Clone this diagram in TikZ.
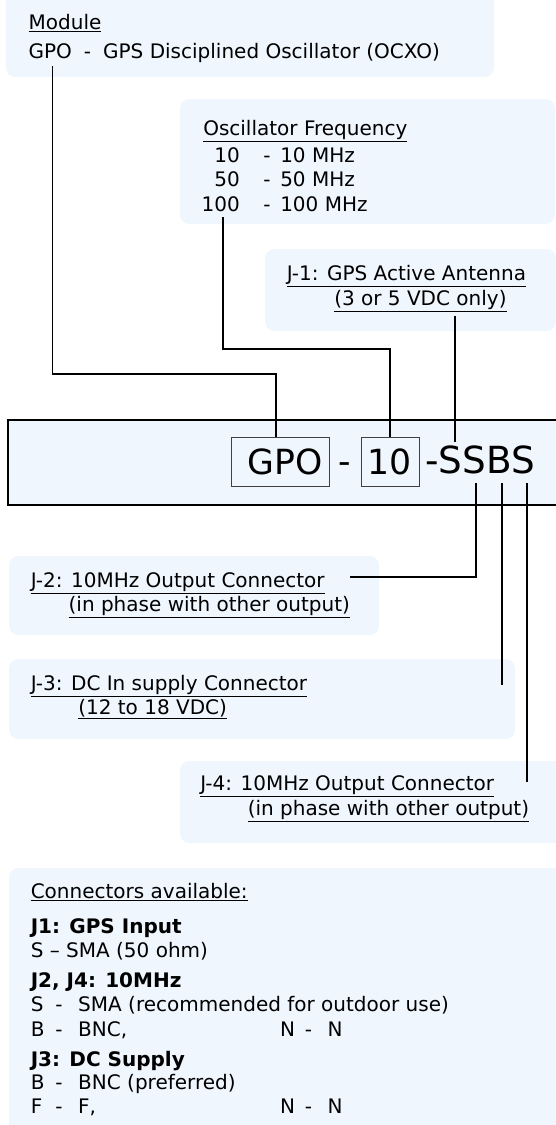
\documentclass[tikz,border=0pt]{standalone}
\usepackage{fontspec}
\setmainfont{DejaVu Sans}
\usetikzlibrary{positioning}
\definecolor{panelblue}{RGB}{240,246,254}
\newcommand{\connopt}[2]{\makebox[18.4pt][l]{#1}\makebox[17.2pt][l]{-}#2}
\tikzset{
panel/.style={fill=panelblue, rounded corners=7pt}, % light blue note panels
txt/.style={anchor=base west, inner sep=0pt, font=\fontsize{15}{18}\selectfont},
boldtxt/.style={txt, font=\fontsize{15}{18}\selectfont\bfseries},
code/.style={inner sep=0pt, font=\fontsize{26}{30}\selectfont}, % the part number
codebox/.style={code, draw=black!75, line width=0.6pt, fill=panelblue, minimum height=36.75pt},
wire/.style={line width=1pt},
}

\begin{document}
\begin{tikzpicture}[x=0.75pt, y=-0.75pt]
            \useasboundingbox (0,0) rectangle (556,1125);
            % panels
            \fill[panel] (6,-12) rectangle (494,77);
            \fill[panel] (180,99) rectangle (555,224);
            \fill[panel] (265,249) rectangle (556,331);
            \fill[panel] (9,556) rectangle (379,635);
            \fill[panel] (9,659) rectangle (515,739);
            \fill[panel] (180,761) rectangle (575,843);
            \fill[panel] (9,868) rectangle (575,1140);
            % module
            \node[txt] (modtitle) at (28.4,29.5) {\underline{Module}};
            \node[txt] (modline) at (28.4,58) {GPO\hspace{9pt}-\hspace{9pt}GPS Disciplined Oscillator (OCXO)};
            % oscillator frequency
            \node[txt] (osctitle) at (203,135) {\underline{Oscillator Frequency}};
            \node[txt, anchor=base east] (osc10) at (240,162) {10};
            \node[txt, anchor=base east] (osc50) at (240,186) {50};
            \node[txt, anchor=base east] (osc100) at (240,211) {100};
            \node[txt] (dash10) at (263,162) {-};
            \node[txt] (dash50) at (263,186) {-};
            \node[txt] (dash100) at (263,211) {-};
            \node[txt] (val10) at (280,162) {10 MHz};
            \node[txt] (val50) at (280,186) {50 MHz};
            \node[txt] (val100) at (280,211) {100 MHz};
            % J-1
            \node[txt] (j1title) at (286.5,280) {\underline{J-1: GPS Active Antenna}};
            \node[txt] (j1note) at (334,305) {\underline{(3 or 5 VDC only)}};
            % part number
            \draw[line width=1.1pt, fill=panelblue] (8,420) rectangle (575,505);
            \node[codebox, minimum width=73.5pt] (cgpo) at (280,461.5) {\hspace{8pt}GPO};
            \node[code, anchor=base] (cdash) at (344.5,473) {-};
            \node[codebox, minimum width=43.5pt] (c10) at (390,461.5) {10};
            \node[code, anchor=base west, font=\fontsize{28}{32}\selectfont] (cssbs) at (425,473) {-SSBS};
            % J-2 .. J-4
            \node[txt] (j2title) at (30.5,587) {\underline{J-2: 10MHz Output Connector}};
            \node[txt] (j2note) at (68.4,611) {\underline{(in phase with other output)}};
            \node[txt] (j3title) at (30.5,690) {\underline{J-3: DC In supply Connector}};
            \node[txt] (j3note) at (78,714) {\underline{(12 to 18 VDC)}};
            \node[txt] (j4title) at (200,790) {\underline{J-4: 10MHz Output Connector}};
            \node[txt] (j4note) at (247.5,815) {\underline{(in phase with other output)}};
            % connectors available
            \node[txt] (conntitle) at (30.5,898) {\underline{Connectors available:}};
            \node[boldtxt] (connj1) at (30.5,933) {J1: GPS Input};
            \node[txt] (connj1s) at (30.5,957) {S – SMA (50 ohm)};
            \node[boldtxt] (connj2) at (30.5,987) {J2, J4: 10MHz};
            \node[txt] (connj2s) at (30.5,1011) {\connopt{S}{SMA (recommended for outdoor use)}};
            \node[txt] (connj2b) at (30.5,1036) {\connopt{B}{\makebox[151.5pt][l]{BNC,}}\connopt{N}{N}};
            \node[boldtxt] (connj3) at (30.5,1066) {J3: DC Supply};
            \node[txt] (connj3b) at (30.5,1089) {\connopt{B}{BNC (preferred)}};
            \node[txt] (connj3f) at (30.5,1113) {\connopt{F}{\makebox[151.5pt][l]{F,}}\connopt{N}{N}};
            % connectors
            \coordinate (tapgpo) at (52.5,66);
            \coordinate (tap100) at (223,217);
            \coordinate (tapj1) at (455,316);
            \coordinate (sj1) at (455,442);
            \coordinate (sj2) at (476,483);
            \coordinate (sj3) at (502,483);
            \coordinate (sj4) at (527,483);
            \coordinate (ej2) at (350,577);
            \coordinate (ej3) at (502,685);
            \coordinate (ej4) at (527,782);
            \draw[wire]
                (tapgpo) -- ++(0,308) -| ([xshift=-3pt]cgpo.north)
                (tap100) -- ++(0,132) -| (c10.north)
                (tapj1) -- (sj1)
                (sj2) |- (ej2)
                (sj3) -- (ej3)
                (sj4) -- (ej4)
                ;
\end{tikzpicture}
\end{document}
